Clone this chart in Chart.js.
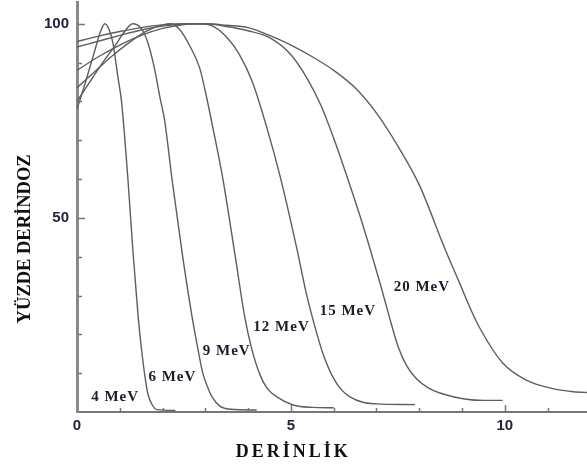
<!DOCTYPE html>
<html>
<head>
<meta charset="utf-8">
<script src="https://cdn.jsdelivr.net/npm/chart.js@4.4.0/dist/chart.umd.min.js"></script>
<style>
html,body{margin:0;padding:0;background:#fff;}
#wrap{width:587px;height:468px;position:relative;}
</style>
</head>
<body>
<div id="wrap"><canvas id="c"></canvas></div>
<script>
// depth (cm) / percent depth dose
var depth4 = [0, 0.2, 0.4, 0.55, 0.65, 0.75, 0.84, 0.96, 1.04, 1.19, 1.31, 1.43, 1.52, 1.59, 1.66, 1.75, 1.87, 2.3];
var dose4  = [78, 85, 92.5, 98, 100, 98.5, 95, 86, 80, 60, 41, 24.5, 15, 9, 4.5, 2, 0.6, 0.4];

var depth6 = [0, 0.3, 0.6, 0.9, 1.1, 1.3, 1.5, 1.66, 1.8, 1.94, 2.05, 2.22, 2.47, 2.69, 2.83, 2.94, 3.05, 3.15, 3.34, 3.6, 4.2];
var dose6  = [80, 85, 90, 94.5, 97.8, 100, 98.8, 95, 89, 81, 75, 60, 40, 24.5, 16, 10, 6.5, 4, 1.5, 0.7, 0.5];

var depth9 = [0, 0.4, 0.8, 1.2, 1.6, 2.0, 2.2, 2.4, 2.65, 2.87, 3.03, 3.18, 3.41, 3.7, 3.92, 4.09, 4.28, 4.45, 4.67, 5.05, 5.5, 6.0];
var dose9  = [83.5, 87.5, 91.5, 95, 98, 99.7, 100, 98.5, 94, 88.5, 81, 73, 60, 40, 24.5, 16, 9.5, 6, 3.9, 1.8, 1.2, 1.1];

var depth12 = [0, 0.5, 1, 1.5, 2, 2.5, 2.85, 3.15, 3.5, 3.8, 4.1, 4.43, 4.74, 5.14, 5.35, 5.56, 5.75, 5.98, 6.2, 6.38, 6.68, 7.0, 7.9];
var dose12  = [88, 91.5, 94.5, 97, 98.8, 99.8, 100, 99.5, 96.5, 92, 85, 73.5, 61, 42, 31, 22, 15, 9, 5.5, 3.9, 2.5, 2.1, 1.9];

var depth15 = [0, 0.5, 1, 1.5, 2, 2.5, 3, 3.5, 4, 4.5, 5, 5.4, 5.7, 6.0, 6.3, 6.6, 6.85, 7.1, 7.3, 7.5, 7.7, 7.94, 8.2, 8.48, 9.1, 9.5, 9.95];
var dose15  = [94, 95.5, 97, 98.4, 99.4, 99.9, 100, 99.3, 98.2, 96.4, 92, 85.5, 79, 70.5, 61, 51, 42, 32.5, 24.5, 17, 12, 8.5, 6.3, 4.9, 3.3, 3, 3];

var depth20 = [0, 0.5, 1, 1.5, 2, 2.5, 3, 3.5, 4.0, 4.5, 5.0, 5.5, 6.0, 6.5, 7.0, 7.5, 8.0, 8.6, 8.95, 9.18, 9.42, 9.95, 10.5, 11.05, 11.6, 12];
var dose20  = [95.4, 96.8, 98, 99, 99.7, 100, 100, 99.6, 99, 97, 94.5, 91.5, 88, 83.5, 77, 68.5, 58.5, 42, 33, 27, 21.5, 12.6, 8.2, 6.2, 5.2, 5];

var energies = ['4 MeV', '6 MeV', '9 MeV', '12 MeV', '15 MeV', '20 MeV'];
// where each energy label sits, in (depth, dose)
var labelDepth = [0.89, 2.23, 3.5, 4.78, 6.33, 8.06];
var labelDose  = [3.9, 9.0, 15.7, 21.9, 26.0, 32.2];

var xTickLabels = [0, 5, 10];
var yTickLabels = [50, 100];

var curves = [[depth4, dose4], [depth6, dose6], [depth9, dose9], [depth12, dose12], [depth15, dose15], [depth20, dose20]];

var datasets = curves.map(function(c, k) {
  return {
    label: energies[k],
    data: c[0].map(function(d, i) { return {x: d, y: c[1][i]}; }),
    borderColor: '#5e5e5e',
    borderWidth: 1.4,
    pointRadius: 0,
    fill: false,
    cubicInterpolationMode: 'monotone'
  };
});

var decor = {
  id: 'decor',
  afterDraw: function(chart) {
    var ctx = chart.ctx, a = chart.chartArea, x = chart.scales.x, y = chart.scales.y;
    ctx.save();
    // inside ticks
    ctx.strokeStyle = '#777';
    ctx.lineWidth = 1.5;
    for (var i = 1; i <= 11; i++) {
      var px = Math.round(x.getPixelForValue(i)) + 0.5;
      var len = (i % 5 === 0) ? 7 : 4;
      ctx.beginPath(); ctx.moveTo(px, a.bottom); ctx.lineTo(px, a.bottom - len); ctx.stroke();
    }
    for (var v = 10; v <= 100; v += 10) {
      var py = Math.round(y.getPixelForValue(v)) + 0.5;
      var l2 = (v % 50 === 0) ? 8 : 5;
      ctx.beginPath(); ctx.moveTo(a.left, py); ctx.lineTo(a.left + l2, py); ctx.stroke();
    }
    // energy labels
    ctx.fillStyle = '#1b1b2b';
    ctx.textAlign = 'center';
    ctx.textBaseline = 'middle';
    ctx.font = 'bold 15px "Liberation Serif"';
    ctx.letterSpacing = '1px';
    for (var k = 0; k < energies.length; k++) {
      ctx.fillText(energies[k], x.getPixelForValue(labelDepth[k]), y.getPixelForValue(labelDose[k]));
    }
    // axis titles
    ctx.fillStyle = '#111';
    ctx.font = 'bold 18px "Liberation Serif"';
    ctx.letterSpacing = '3px';
    ctx.fillText('DERİNLİK', x.getPixelForValue(5.03) + 1, a.bottom + 40);
    ctx.letterSpacing = '0px';
    ctx.font = 'bold 18.5px "Liberation Serif"';
    ctx.translate(25, y.getPixelForValue(44.6));
    ctx.rotate(-Math.PI / 2);
    ctx.fillText('YÜZDE DERİNDOZ', 0, 0);
    ctx.restore();
  }
};

new Chart(document.getElementById('c'), {
  type: 'line',
  data: {datasets: datasets},
  options: {
    responsive: true,
    maintainAspectRatio: false,
    animation: false,
    layout: {padding: {top: 2, left: 0, right: 0, bottom: 0}},
    plugins: {legend: {display: false}, tooltip: {enabled: false}},
    scales: {
      x: {
        type: 'linear',
        min: 0,
        max: 11.92,
        afterFit: function(s) { s.height = 56; s.paddingLeft = 0; s.paddingRight = 0; },
        border: {display: true, color: '#777', width: 2},
        grid: {display: false, drawTicks: false},
        ticks: {
          stepSize: 1,
          padding: 5,
          autoSkip: false,
          maxRotation: 0,
          color: '#23233a',
          font: {family: '"Liberation Sans"', size: 15, weight: 'bold'},
          callback: function(val) { return xTickLabels.indexOf(val) >= 0 ? String(val) : ''; }
        }
      },
      y: {
        min: 0,
        max: 105.6,
        afterFit: function(s) { s.width = 77; s.paddingTop = 0; s.paddingBottom = 0; },
        border: {display: true, color: '#8a8a8a', width: 3},
        grid: {display: false, drawTicks: false},
        ticks: {
          stepSize: 10,
          padding: 8,
          autoSkip: false,
          color: '#23233a',
          font: {family: '"Liberation Sans"', size: 15, weight: 'bold'},
          callback: function(val) { return yTickLabels.indexOf(val) >= 0 ? String(val) : ''; }
        }
      }
    }
  },
  plugins: [decor]
});
</script>
</body>
</html>
